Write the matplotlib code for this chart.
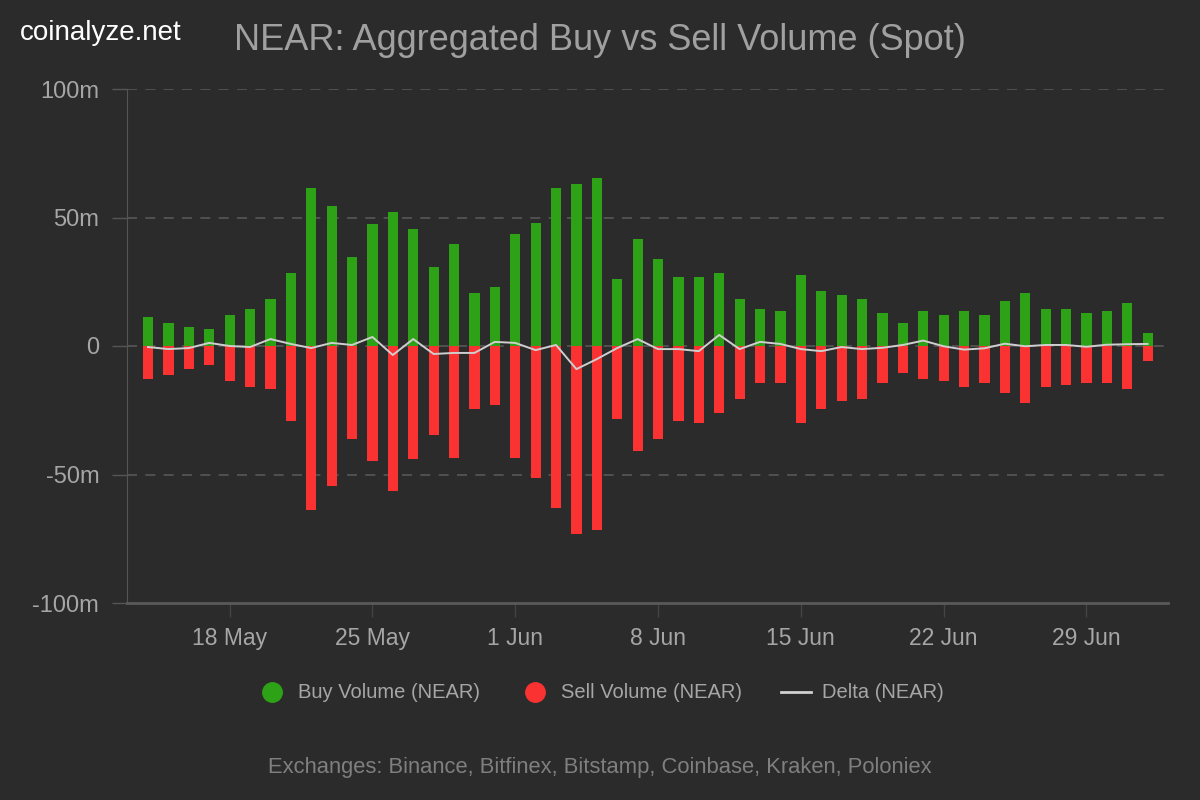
import numpy as np
import pandas as pd
import matplotlib
matplotlib.use("Agg")
import matplotlib.pyplot as plt
import matplotlib.dates as mdates
from matplotlib.lines import Line2D
from matplotlib.ticker import FuncFormatter

plt.rcParams['font.family'] = ['Liberation Sans', 'DejaVu Sans']

# daily values, millions of NEAR
dates = pd.date_range("2024-05-14", periods=50, freq="D")
buy_volume = [11.3, 9.0, 7.4, 6.6, 12.1, 14.5, 18.4, 28.5, 61.3, 54.3,
              34.8, 47.3, 52.0, 45.7, 30.9, 39.5, 20.7, 23.0, 43.4, 48.0,
              61.3, 62.9, 65.2, 26.2, 41.8, 34.0, 27.0, 27.0, 28.5, 18.4,
              14.5, 13.7, 27.7, 21.5, 19.9, 18.4, 12.9, 9.0, 13.7, 12.1,
              13.7, 12.1, 17.6, 20.7, 14.5, 14.5, 12.9, 13.7, 16.8, 5.1]
sell_volume = [-12.9, -11.3, -9.0, -7.4, -13.7, -16.0, -16.8, -29.3, -63.7, -54.3,
               -36.3, -44.9, -56.6, -44.1, -34.8, -43.4, -24.6, -23.0, -43.4, -51.2,
               -62.9, -73.0, -71.5, -28.5, -41.0, -36.3, -29.3, -30.1, -26.2, -20.7,
               -14.5, -14.5, -30.1, -24.6, -21.5, -20.7, -14.5, -10.5, -12.9, -13.7,
               -16.0, -14.5, -18.4, -22.3, -16.0, -15.2, -14.5, -14.5, -16.8, -5.9]
delta = [-0.4, -1.2, -0.8, 1.2, 0.0, -0.4, 2.7, 0.8, -0.8, 1.2,
         0.4, 3.5, -3.5, 2.7, -3.1, -2.7, -2.7, 1.6, 1.2, -1.6,
         0.4, -9.0, -5.1, -0.8, 2.7, -1.2, -1.2, -2.0, 4.3, -1.2,
         1.6, 0.8, -1.2, -2.0, -0.4, -1.2, -0.7, 0.4, 2.1, -0.1,
         -1.4, -0.9, 0.9, -0.1, 0.4, 0.4, -0.3, 0.5, 0.7, 0.8]
tick_dates = pd.to_datetime(["2024-05-18", "2024-05-25", "2024-06-01", "2024-06-08",
                             "2024-06-15", "2024-06-22", "2024-06-29"])

bg = "#2b2b2b"
green = "#2ea216"
red = "#fa3232"
text_col = "#a6a6a6"

fig = plt.figure(figsize=(12, 8), dpi=100, facecolor=bg)
ax = fig.add_axes([127 / 1200, 1 - 603 / 800, (1168 - 127) / 1200, (603 - 89) / 800])
ax.set_facecolor(bg)

ax.bar(dates, buy_volume, width=0.5, color=green, zorder=2)
ax.bar(dates, sell_volume, width=0.5, color=red, zorder=2)
ax.plot(dates, delta, color="#cfcfcf", linewidth=1.4, zorder=3)

ax.set_ylim(-100, 100)
ax.set_xlim(dates[0] - pd.Timedelta(days=1.03), dates[-1] + pd.Timedelta(days=1.0))
ax.set_yticks([-100, -50, 0, 50, 100])
ax.yaxis.set_major_formatter(FuncFormatter(lambda v, p: "0" if v == 0 else f"{int(v)}m"))
ax.set_xticks(tick_dates)
ax.xaxis.set_major_formatter(mdates.DateFormatter("%-d %b"))

for y in [50, 0, -50, 100]:
    ax.axhline(y, color="#575757", linewidth=1.2, linestyle=(0, (6, 5)), zorder=1)

for s in ["top", "right"]:
    ax.spines[s].set_visible(False)
ax.spines["left"].set_color("#555555")
ax.spines["bottom"].set_color("#5a5a5a")
ax.spines["bottom"].set_linewidth(2)

ax.tick_params(axis="y", colors="#555555", labelcolor=text_col, labelsize=17, length=11, width=1, pad=9)
ax.tick_params(axis="x", colors="#444444", labelcolor=text_col, labelsize=16.5, length=10, width=1, pad=7)

fig.text(20 / 1200, 1 - 33 / 800, "coinalyze.net", color="white", fontsize=20, va="center", ha="left")
fig.text(600 / 1200, 1 - 41 / 800, "NEAR: Aggregated Buy vs Sell Volume (Spot)", color="#a0a0a0",
         fontsize=26, va="center", ha="center")

# legend
ly = 1 - 692 / 800
fig.add_artist(Line2D([272 / 1200], [ly], marker="o", markersize=14, color=green, linestyle="none",
                      transform=fig.transFigure))
fig.text(298 / 1200, ly, "Buy Volume (NEAR)", color=text_col, fontsize=14.5, va="center", ha="left")
fig.add_artist(Line2D([535 / 1200], [ly], marker="o", markersize=14, color=red, linestyle="none",
                      transform=fig.transFigure))
fig.text(561 / 1200, ly, "Sell Volume (NEAR)", color=text_col, fontsize=14.5, va="center", ha="left")
fig.add_artist(Line2D([781 / 1200, 811 / 1200], [ly, ly], color="#d0d0d0", linewidth=2,
                      transform=fig.transFigure))
fig.text(822 / 1200, ly, "Delta (NEAR)", color=text_col, fontsize=14.5, va="center", ha="left")

fig.text(600 / 1200, 1 - 767 / 800, "Exchanges: Binance, Bitfinex, Bitstamp, Coinbase, Kraken, Poloniex",
         color="#7f7f7f", fontsize=15.8, va="center", ha="center")

fig.savefig("out.png", dpi=100, facecolor=bg)
